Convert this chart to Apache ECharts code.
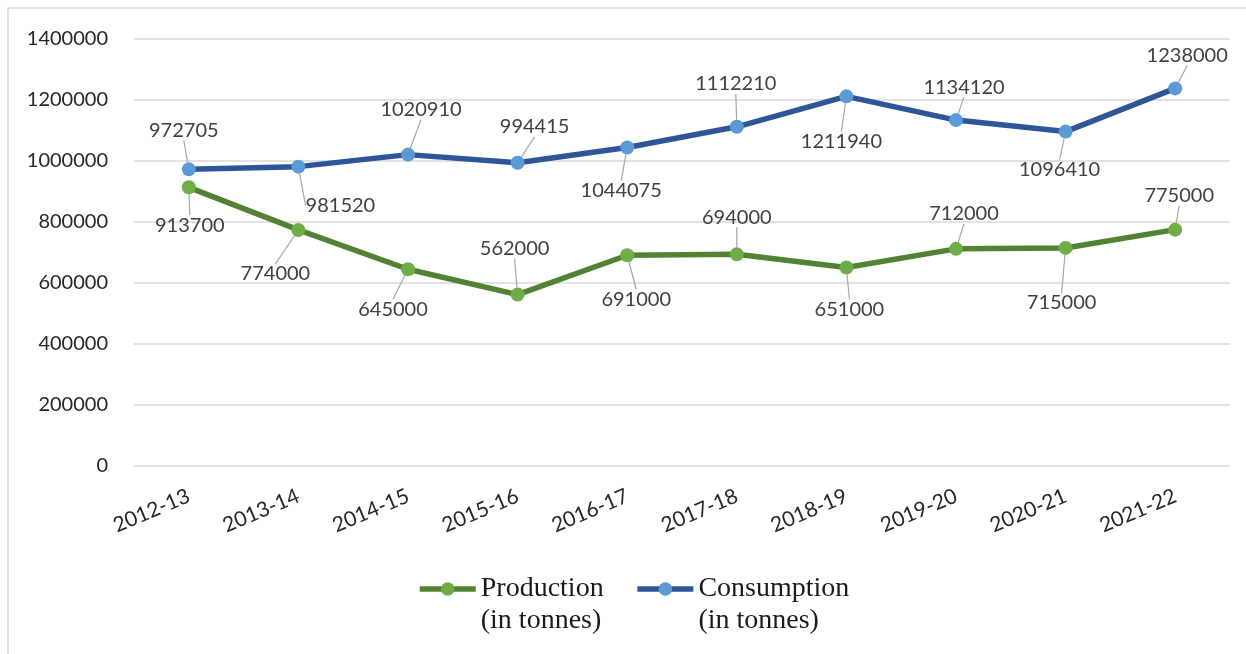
<!DOCTYPE html>
<html>
<head>
<meta charset="utf-8">
<title>Production and Consumption</title>
<script src="https://cdn.jsdelivr.net/npm/echarts@6/dist/echarts.min.js"></script>
<style>
  html, body { margin: 0; padding: 0; background: #ffffff; }
  #chart { width: 1246px; height: 654px; }
</style>
</head>
<body>
<div id="chart"></div>
<script>
// Crop years
const categories = ['2012-13', '2013-14', '2014-15', '2015-16', '2016-17',
                    '2017-18', '2018-19', '2019-20', '2020-21', '2021-22'];

// Production (in tonnes)
const production = [913700, 774000, 645000, 562000, 691000,
                    694000, 651000, 712000, 715000, 775000];

// Consumption (in tonnes)
const consumption = [972705, 981520, 1020910, 994415, 1044075,
                     1112210, 1211940, 1134120, 1096410, 1238000];

// Value axis ticks
const yTicks = [0, 200000, 400000, 600000, 800000, 1000000, 1200000, 1400000];

// Series names as shown in the legend (two lines each)
const seriesNames = ['Production\n(in tonnes)', 'Consumption\n(in tonnes)'];

// Label placement (dx, dy from the marker centre), one pair per point
const productionLabelShift = [[1, 38], [-23, 44], [-15, 40], [-3, -46], [9, 44],
                              [0, -37], [3, 42], [8, -35], [-4, 55], [4, -34]];
const consumptionLabelShift = [[-5, -39], [42, 39], [13, -45], [17, -36], [-6, 43],
                               [-1, -43], [-5, 45], [8, -33], [-6, 38], [12, -33]];

const labelShifts = [productionLabelShift, consumptionLabelShift];

const chart = echarts.init(document.getElementById('chart'), null, { renderer: 'canvas' });

const labelFont = { fontFamily: 'Lato', fontSize: 20, color: '#404040' };

function lineSeries(name, values, lineColor, markerColor) {
  return {
    name: name,
    type: 'line',
    data: values,
    symbol: 'circle',
    symbolSize: 14,
    lineStyle: { color: lineColor, width: 5.5 },
    itemStyle: { color: markerColor, borderWidth: 0 },
    label: Object.assign({ show: true, position: 'inside' }, labelFont),
    labelLine: { show: true, lineStyle: { color: '#a6a6a6', width: 1.2 } },
    emphasis: { disabled: true },
    animation: false
  };
}

chart.setOption({
  backgroundColor: '#ffffff',
  animation: false,
  graphic: [{
    type: 'rect',
    shape: { x: 8, y: 8, width: 1260, height: 680 },
    style: { fill: 'none', stroke: '#d9d9d9', lineWidth: 1.5 },
    silent: true,
    z: -10
  }],
  grid: { left: 134, right: 16, top: 39, bottom: 188, containLabel: false },
  xAxis: {
    type: 'category',
    data: categories,
    boundaryGap: true,
    axisLine: { show: false },
    axisTick: { show: false },
    axisLabel: {
      rotate: 23,
      margin: 29,
      interval: 0,
      fontFamily: 'Lato',
      fontSize: 21,
      color: '#262626'
    }
  },
  yAxis: {
    type: 'value',
    min: yTicks[0],
    max: yTicks[yTicks.length - 1],
    interval: yTicks[1] - yTicks[0],
    axisLine: { show: false },
    axisTick: { show: false },
    splitLine: { lineStyle: { color: '#d9d9d9', width: 1.5 } },
    axisLabel: {
      margin: 26,
      fontFamily: 'Lato',
      fontSize: 20,
      color: '#262626',
      formatter: function (v) { return String(v); }
    }
  },
  legend: {
    left: 412,
    top: 536,
    orient: 'horizontal',
    itemWidth: 56,
    itemHeight: 17,
    itemGap: 31,
    data: seriesNames,
    // a blank first line keeps the icon level with the first line of the name
    formatter: function (name) { return '\n' + name; },
    lineStyle: { width: 5.5 },
    textStyle: {
      fontFamily: 'Liberation Serif',
      fontSize: 28,
      lineHeight: 32,
      color: '#1a1a1a'
    }
  },
  labelLayout: function (params) {
    const shift = labelShifts[params.seriesIndex][params.dataIndex];
    return { dx: shift[0], dy: shift[1] };
  },
  series: [
    lineSeries(seriesNames[0], production, '#548235', '#70ad47'),
    lineSeries(seriesNames[1], consumption, '#2f5597', '#5b9bd5')
  ]
});
</script>
</body>
</html>
